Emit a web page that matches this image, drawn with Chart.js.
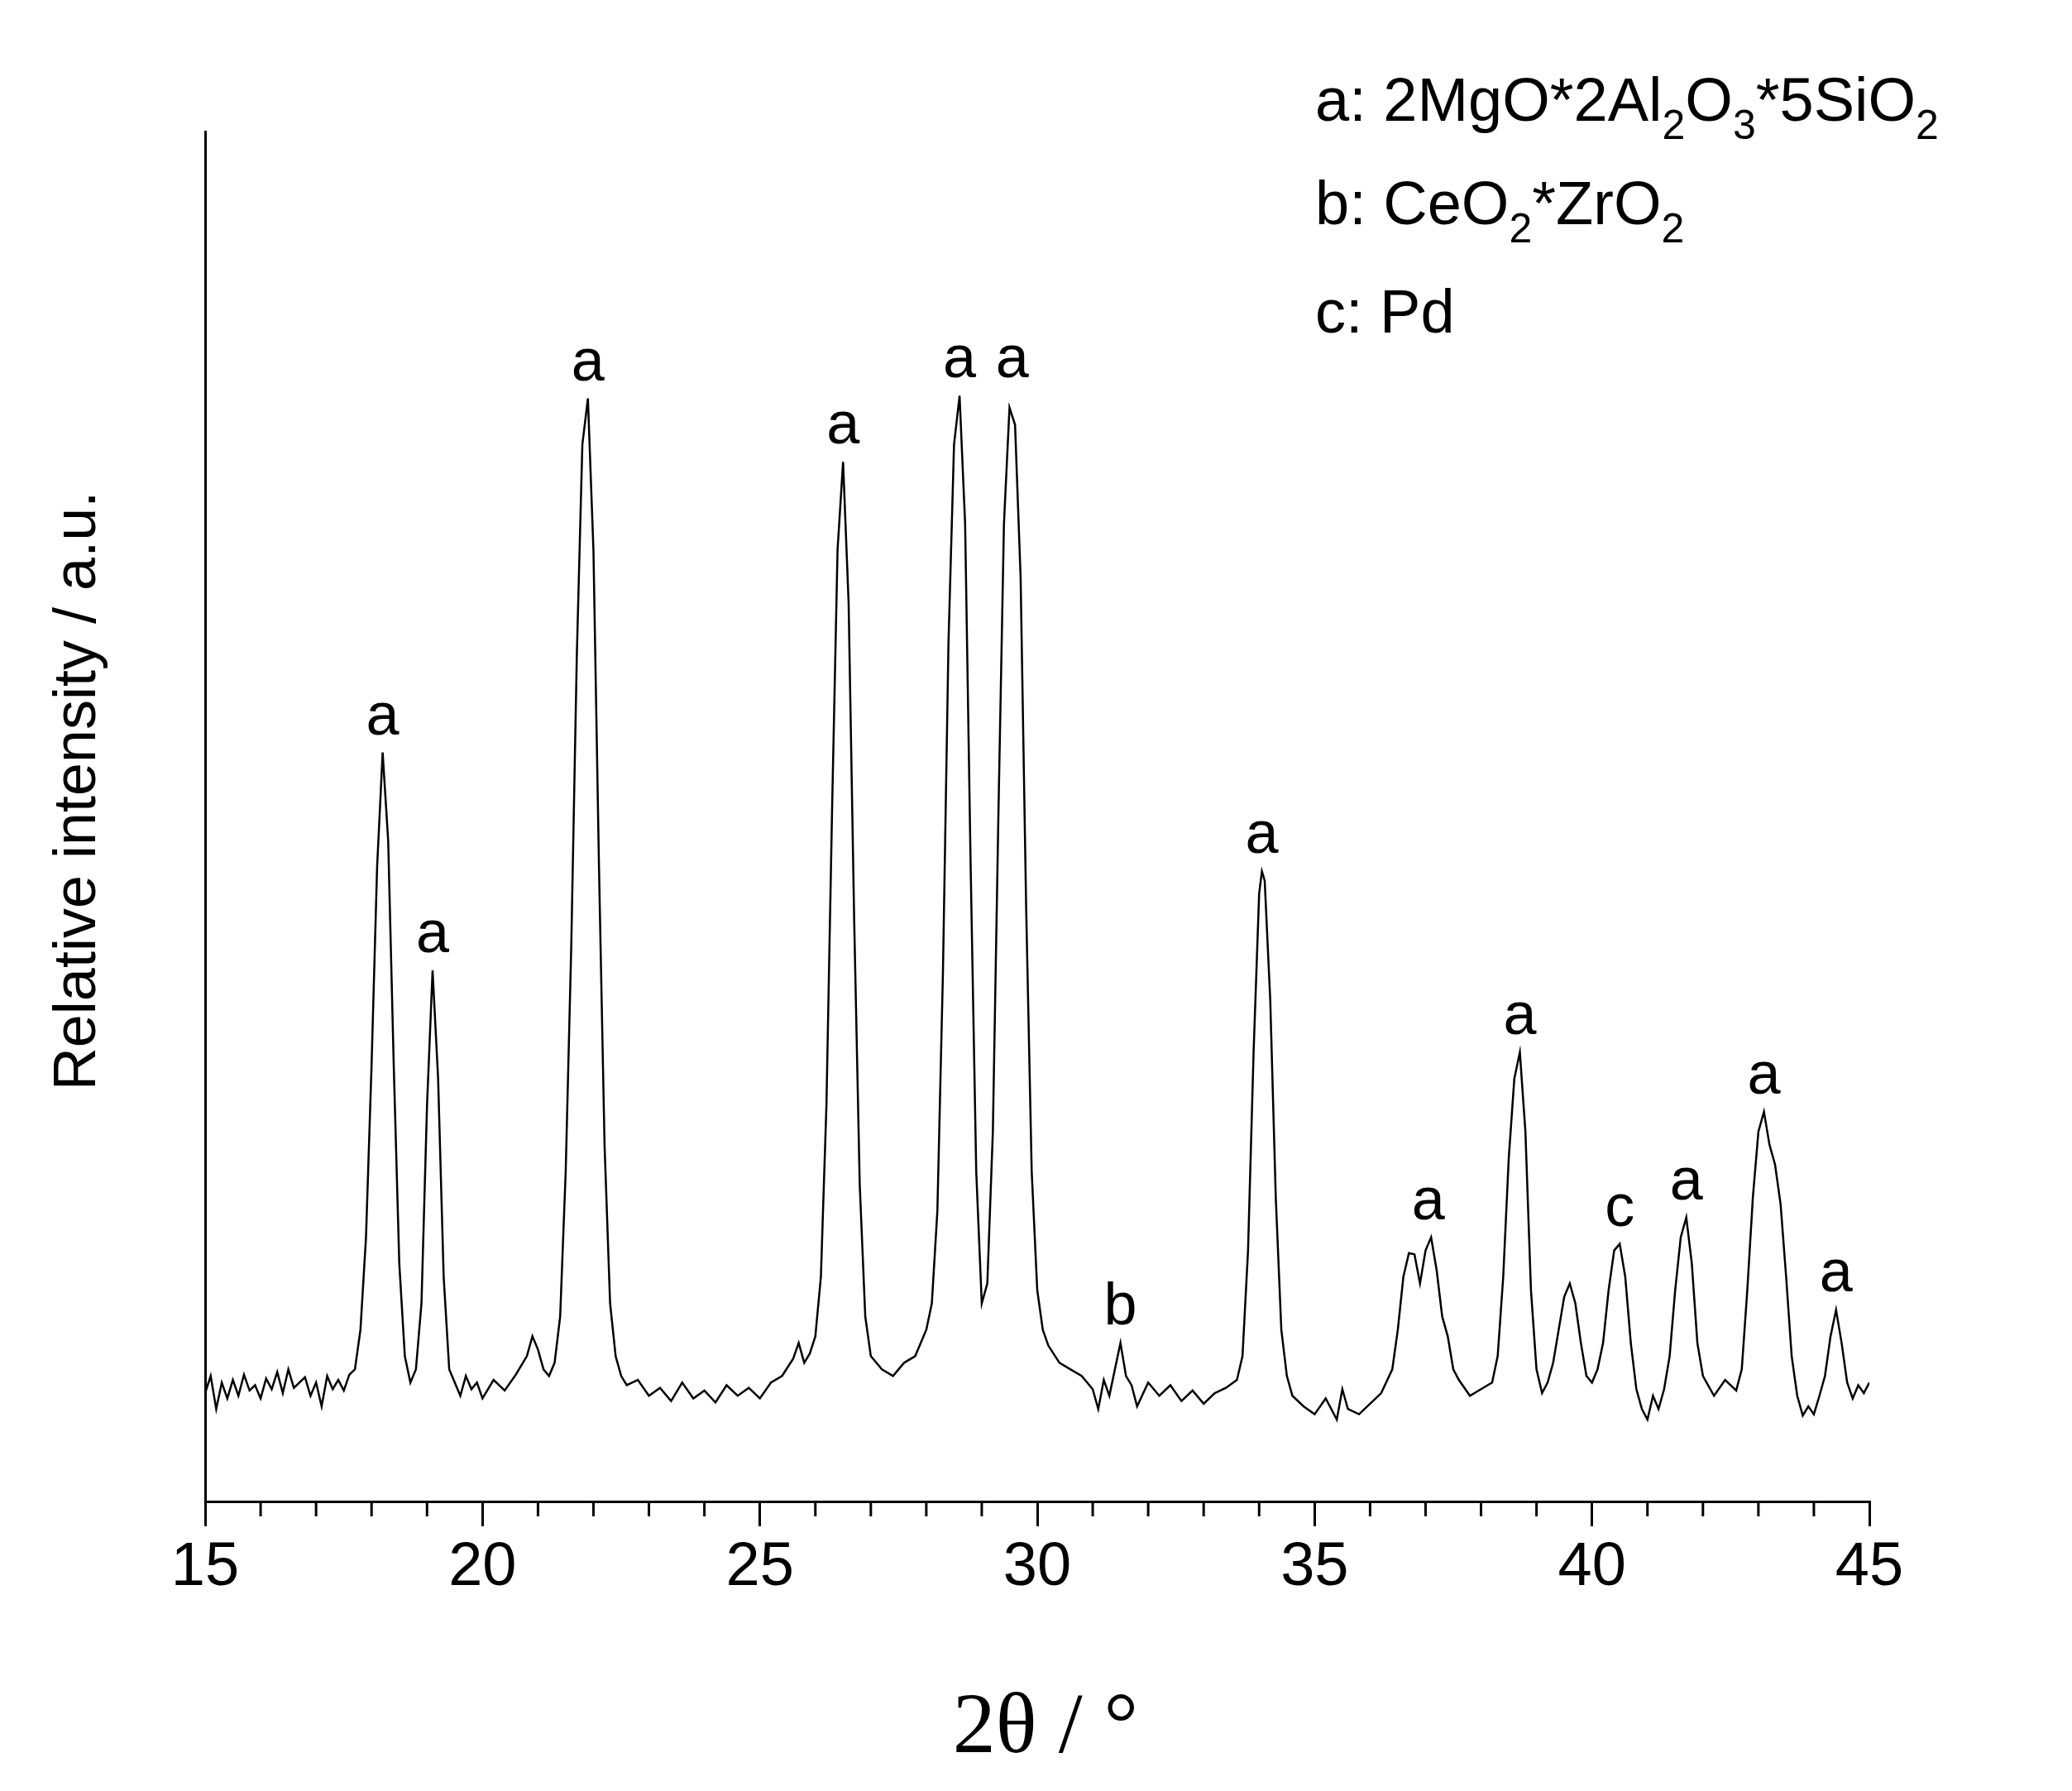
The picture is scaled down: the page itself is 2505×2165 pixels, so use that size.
<!DOCTYPE html>
<html>
<head>
<meta charset="utf-8">
<script src="https://cdn.jsdelivr.net/npm/chart.js@4/dist/chart.umd.min.js"></script>
<style>
  html, body { margin: 0; padding: 0; background: #fff; }
  #wrap { width: 2505px; height: 2165px; }
</style>
</head>
<body>
<div id="wrap"><canvas id="xrd"></canvas></div>
<script>
// 2θ positions and intensities
const angles = [15.0,15.1,15.2,15.3,15.4,15.5,15.6,15.7,15.8,15.9,16.0,16.1,16.2,16.3,16.4,16.5,16.6,16.8,16.9,17.0,17.1,17.2,17.3,17.4,17.5,17.6,17.7,17.8,17.9,18.0,18.1,18.2,18.3,18.4,18.5,18.6,18.7,18.8,18.9,19.0,19.1,19.2,19.3,19.4,19.5,19.6,19.7,19.8,19.9,20.0,20.2,20.4,20.6,20.8,20.9,21.0,21.1,21.2,21.3,21.4,21.5,21.6,21.7,21.8,21.9,22.0,22.1,22.2,22.3,22.4,22.5,22.6,22.8,23.0,23.2,23.4,23.6,23.8,24.0,24.2,24.4,24.6,24.8,25.0,25.2,25.4,25.6,25.7,25.8,25.9,26.0,26.1,26.2,26.3,26.4,26.5,26.6,26.7,26.8,26.9,27.0,27.2,27.4,27.6,27.8,28.0,28.1,28.2,28.3,28.4,28.5,28.6,28.7,28.8,28.9,29.0,29.1,29.2,29.3,29.4,29.5,29.6,29.7,29.8,29.9,30.0,30.1,30.2,30.4,30.6,30.8,31.0,31.1,31.2,31.3,31.4,31.5,31.6,31.7,31.8,32.0,32.2,32.4,32.6,32.8,33.0,33.2,33.4,33.6,33.7,33.8,33.9,34.0,34.05,34.1,34.2,34.3,34.4,34.5,34.6,34.8,35.0,35.2,35.4,35.5,35.6,35.8,36.0,36.2,36.4,36.5,36.6,36.7,36.8,36.9,37.0,37.1,37.2,37.3,37.4,37.5,37.6,37.8,38.0,38.2,38.3,38.4,38.5,38.6,38.7,38.8,38.9,39.0,39.1,39.2,39.3,39.4,39.5,39.6,39.7,39.8,39.9,40.0,40.1,40.2,40.3,40.4,40.5,40.6,40.7,40.8,40.9,41.0,41.1,41.2,41.3,41.4,41.5,41.6,41.7,41.8,41.9,42.0,42.2,42.4,42.6,42.7,42.8,42.9,43.0,43.1,43.2,43.3,43.4,43.5,43.6,43.7,43.8,43.9,44.0,44.1,44.2,44.3,44.4,44.5,44.6,44.7,44.8,44.9,45.0];
const intensity = [82,95,70,90,78,92,80,96,84,88,78,93,85,98,82,100,86,94,80,90,72,95,85,92,84,96,100,130,200,330,480,567,500,330,180,110,90,100,150,300,402,320,170,100,90,80,95,85,90,78,92,84,96,110,125,115,100,95,105,140,250,420,640,800,835,720,480,270,150,110,95,88,92,80,86,76,90,78,84,75,88,80,86,78,90,95,108,120,105,112,125,170,300,520,720,787,680,440,240,140,110,100,95,105,110,130,150,220,400,650,800,837,740,480,250,150,165,280,520,740,828,815,700,450,250,160,130,118,105,100,95,85,70,92,80,100,120,95,88,72,90,80,88,76,84,74,82,86,92,110,190,340,460,477,470,380,230,130,95,80,72,66,78,62,85,70,66,74,82,100,130,170,188,187,165,190,200,175,140,125,100,92,80,85,90,110,170,260,320,340,280,160,100,82,90,105,130,155,165,150,120,95,90,100,120,160,190,195,170,120,85,70,62,80,70,85,110,160,200,215,180,120,95,80,92,84,100,160,230,280,295,270,255,225,170,110,80,65,72,66,80,95,125,145,120,90,78,88,82,90];

// phase markers above peaks
const markAngles = [18.2, 19.1, 21.9, 26.5, 28.6, 29.55, 31.5, 34.05, 37.05, 38.7, 40.5, 41.7, 43.1, 44.4];
const markHeights = [567, 402, 835, 787, 837, 837, 120, 477, 200, 340, 195, 215, 295, 145];
const markLetters = ["a","a","a","a","a","a","b","a","a","a","c","a","a","a"];

const xTicks = [15, 20, 25, 30, 35, 40, 45];

const points = angles.map((a, i) => ({ x: a, y: intensity[i] }));

// legend lines: [text, subscript?] pieces
const legendLines = [
  [["a: 2MgO*2Al", 0], ["2", 1], ["O", 0], ["3", 1], ["*5SiO", 0], ["2", 1]],
  [["b: CeO", 0], ["2", 1], ["*ZrO", 0], ["2", 1]],
  [["c: Pd", 0]]
];

const extras = {
  id: "extras",
  afterDraw(chart) {
    const ctx = chart.ctx;
    const xs = chart.scales.x, ys = chart.scales.y;
    ctx.save();
    ctx.fillStyle = "#000";
    ctx.strokeStyle = "#000";

    // minor ticks
    ctx.lineWidth = 3;
    for (let v = 16; v < 45; v++) {
      if (v % 5 === 0) continue;
      const px = xs.getPixelForValue(v);
      ctx.beginPath();
      ctx.moveTo(px, ys.bottom);
      ctx.lineTo(px, ys.bottom + 18);
      ctx.stroke();
    }

    // peak letters
    ctx.font = "72px 'Liberation Sans', Arial, sans-serif";
    ctx.textAlign = "center";
    ctx.textBaseline = "alphabetic";
    for (let i = 0; i < markAngles.length; i++) {
      ctx.fillText(markLetters[i], xs.getPixelForValue(markAngles[i]), ys.getPixelForValue(markHeights[i]) - 22);
    }

    // legend
    ctx.textAlign = "left";
    const baselines = [146, 271, 402];
    legendLines.forEach((line, li) => {
      let x = 1590;
      line.forEach(([t, sub]) => {
        ctx.font = (sub ? "50px" : "74px") + " 'Liberation Sans', Arial, sans-serif";
        ctx.fillText(t, x, baselines[li] + (sub ? 22 : 0));
        x += ctx.measureText(t).width;
      });
    });

    // axis titles
    ctx.font = "72px 'Liberation Sans', Arial, sans-serif";
    ctx.textAlign = "center";
    ctx.translate(115, 956);
    ctx.rotate(-Math.PI / 2);
    ctx.fillText("Relative intensity / a.u.", 0, 0);
    ctx.setTransform(1, 0, 0, 1, 0, 0);
    ctx.font = "104px 'Liberation Serif', 'Times New Roman', serif";
    ctx.fillText("2θ / °", 1264, 2118);
    ctx.restore();
  }
};

new Chart(document.getElementById("xrd"), {
  type: "line",
  data: {
    datasets: [{
      data: points,
      borderColor: "#000",
      borderWidth: 2.5,
      pointRadius: 0,
      tension: 0,
      fill: false
    }]
  },
  options: {
    responsive: true,
    maintainAspectRatio: false,
    animation: false,
    devicePixelRatio: 1,
    layout: { padding: { top: 159, right: 245, left: 0, bottom: 0 } },
    plugins: { legend: { display: false }, tooltip: { enabled: false } },
    scales: {
      x: {
        type: "linear",
        min: 15,
        max: 45,
        afterBuildTicks: (s) => { s.ticks = xTicks.map(v => ({ value: v })); },
        afterFit: (s) => { s.height = 350; },
        border: { display: true, color: "#000", width: 3 },
        grid: { display: true, drawOnChartArea: false, color: "#000", lineWidth: 3, tickLength: 30 },
        ticks: { color: "#000", font: { size: 74, family: "'Liberation Sans', Arial, sans-serif" }, padding: 6 }
      },
      y: {
        min: 0,
        max: 1037,
        afterFit: (s) => { s.width = 248; },
        border: { display: true, color: "#000", width: 3 },
        grid: { display: false },
        ticks: { display: false }
      }
    }
  },
  plugins: [extras]
});
</script>
</body>
</html>
